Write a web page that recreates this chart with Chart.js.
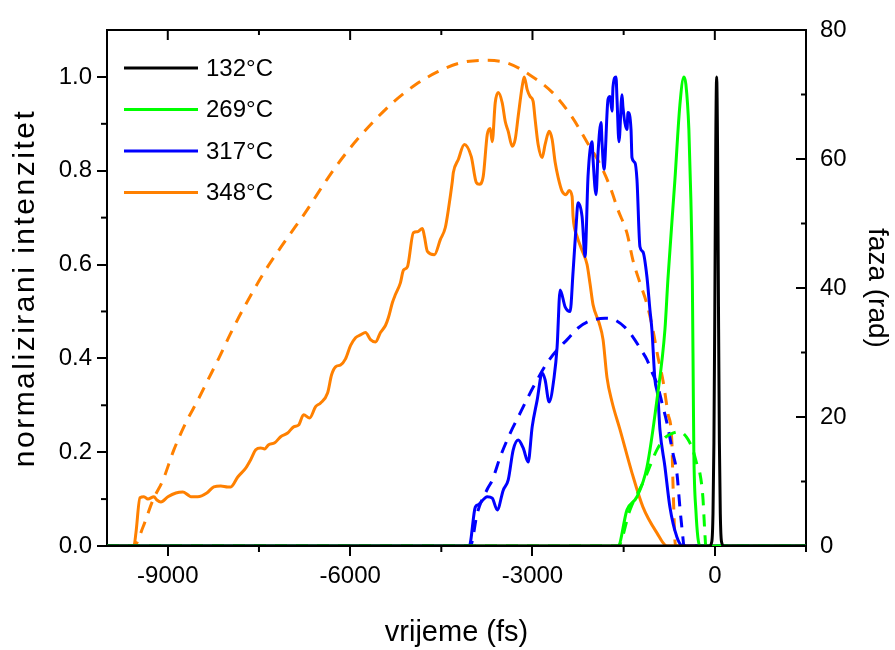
<!DOCTYPE html>
<html>
<head>
<meta charset="utf-8">
<script src="https://cdn.jsdelivr.net/npm/chart.js@4/dist/chart.umd.min.js"></script>
<style>
  body { margin: 0; background: #fff; }
  #boite { width: 895px; height: 650px; }
</style>
</head>
<body>
<div id="boite"><canvas id="graf"></canvas></div>
<script>
// legende / couleurs
const oznake = ['132°C', '269°C', '317°C', '348°C'];
const boje = ['#000000', '#00ff00', '#0000ff', '#ff8000'];

// osi
const xMajor = [-9000, -6000, -3000, 0];
const xMinor = [-7500, -4500, -1500, 1500];
const yMajor = [0, 0.2, 0.4, 0.6, 0.8, 1.0];
const yMinor = [0.1, 0.3, 0.5, 0.7, 0.9];
const y2Major = [0, 20, 40, 60, 80];
const y2Minor = [10, 30, 50, 70];

// 132 C - intenzitet
const t132 = [-10000, -90, -50, -30, -15, 0, 15, 30, 45, 60, 75, 90, 110, 150, 1500];
const i132 = [0, 0, 0.009, 0.07, 0.22, 0.51, 0.85, 1, 0.85, 0.51, 0.22, 0.07, 0.009, 0, 0];

// 269 C - intenzitet i faza
const t269 = [-10000, -1593, -1445, -1281, -1117, -953, -821, -772, -657, -575, -509, -476, -427, -394, -370, -353, -345, -312, -246, 1500];
const i269 = [0, 0, 0.077, 0.105, 0.168, 0.311, 0.461, 0.568, 0.78, 0.94, 1.0, 0.984, 0.888, 0.739, 0.568, 0.312, 0.199, 0.077, 0, 0];
const tf269 = [-10000, -1593, -1396, -1149, -953, -820, -690, -600, -525, -440, -361, -290, -246, -197, -164, -148, 1500];
const f269 = [0, 0, 5.6, 10.5, 14.9, 16.8, 17.5, 17.7, 17.5, 16.5, 14.9, 12.5, 11.3, 7.6, 2.0, 0, 0];

// 317 C
const t317 = [-10000, -4040, -3941, -3892, -3744, -3662, -3580, -3481, -3399, -3317,
  -3235, -3153, -3071, -3005, -2923, -2841, -2792, -2726, -2644, -2595,
  -2545, -2463, -2381, -2332, -2283, -2250, -2184, -2135, -2086, -2020,
  -2003, -1954, -1921, -1872, -1856, -1823, -1757, -1724, -1691, -1675,
  -1626, -1609, -1577, -1527, -1511, -1445, -1429, -1379, -1363, -1314,
  -1281, -1232, -1182, -1117, -1068, -1035, -985, -936, -903, -821,
  -739, -624, -526, 1500];
const i317 = [0, 0, 0.083, 0.088, 0.105, 0.102, 0.077, 0.119, 0.141, 0.205,
  0.226, 0.209, 0.179, 0.254, 0.311, 0.369, 0.354, 0.307, 0.360, 0.424,
  0.546, 0.51, 0.50, 0.585, 0.681, 0.732, 0.702, 0.617, 0.788, 0.862,
  0.823, 0.749, 0.839, 0.903, 0.861, 0.803, 0.952, 0.958, 0.927, 0.979,
  1.0, 0.952, 0.862, 0.962, 0.935, 0.888, 0.924, 0.888, 0.828, 0.817,
  0.781, 0.638, 0.627, 0.574, 0.504, 0.461, 0.354, 0.318, 0.248, 0.169,
  0.083, 0.019, 0, 0];
const tf317 = [-10000, -4023, -3908, -3744, -3662, -3531, -3366, -3235, -3071, -2989,
  -2759, -2545, -2430, -2250, -2053, -1806, -1691, -1478, -1347, -1199,
  -1117, -1035, -936, -870, -788, -690, -624, -575, -526, -509, 1500];
const f317 = [0, 0, 5.1, 8.8, 10.2, 13.8, 17.5, 20.0, 23.1, 24.6,
  28.4, 30.9, 32.0, 33.8, 34.9, 35.3, 35.2, 33.9, 32.4, 30.2,
  28.9, 27.0, 24.7, 22.2, 19.1, 14.4, 11.3, 6.0, 1.4, 0, 0];

// 348 C
const t348 = [-10000, -9557, -9524, -9458, -9392, -9327, -9228, -9179, -9113, -8998,
  -8867, -8752, -8670, -8621, -8506, -8358, -8243, -8128, -8013, -7964,
  -7849, -7718, -7636, -7553, -7471, -7406, -7340, -7241, -7143, -7028,
  -6929, -6847, -6765, -6667, -6568, -6486, -6371, -6305, -6240, -6158,
  -6076, -5994, -5911, -5829, -5747, -5665, -5583, -5501, -5419, -5370,
  -5304, -5255, -5173, -5123, -5058, -4959, -4893, -4811, -4778, -4729,
  -4614, -4516, -4434, -4384, -4319, -4302, -4220, -4122, -4007, -3925,
  -3875, -3810, -3744, -3695, -3662, -3613, -3563, -3498, -3448, -3399,
  -3333, -3284, -3235, -3169, -3136, -3087, -3038, -2989, -2956, -2907,
  -2841, -2792, -2726, -2677, -2627, -2578, -2512, -2447, -2398, -2348,
  -2332, -2266, -2184, -2102, -2053, -2003, -1905, -1839, -1774, -1691,
  -1560, -1363, -1182, -953, -788, 1500];
const i348 = [0, 0, 0.028, 0.103, 0.105, 0.100, 0.105, 0.098, 0.094, 0.105,
  0.113, 0.115, 0.109, 0.105, 0.105, 0.113, 0.126, 0.128, 0.126, 0.126,
  0.147, 0.166, 0.184, 0.205, 0.209, 0.207, 0.216, 0.220, 0.233, 0.241,
  0.254, 0.258, 0.280, 0.273, 0.297, 0.305, 0.326, 0.365, 0.382, 0.386,
  0.399, 0.427, 0.444, 0.450, 0.455, 0.44, 0.435, 0.455, 0.47, 0.487,
  0.519, 0.536, 0.561, 0.588, 0.595, 0.668, 0.670, 0.677, 0.660, 0.628,
  0.621, 0.653, 0.679, 0.717, 0.777, 0.796, 0.824, 0.856, 0.830, 0.775,
  0.771, 0.788, 0.877, 0.890, 0.862, 0.945, 0.967, 0.945, 0.905, 0.884,
  0.852, 0.867, 0.916, 0.980, 1.0, 0.973, 0.958, 0.948, 0.909, 0.856,
  0.828, 0.856, 0.884, 0.867, 0.818, 0.786, 0.756, 0.749, 0.758, 0.745,
  0.702, 0.660, 0.630, 0.600, 0.559, 0.514, 0.476, 0.440, 0.359, 0.307,
  0.248, 0.156, 0.083, 0.028, 0, 0];
const tf348 = [-10000, -9557, -9409, -9245, -9080, -8900, -8703, -8506, -8342, -8161,
  -7964, -7750, -7390, -7060, -6730, -6355, -6026, -5665, -5304, -4926,
  -4565, -4187, -3810, -3416, -3038, -2660, -2348, -2102, -1889, -1724,
  -1593, -1445, -1347, -1232, -1117, -1018, -936, -854, -772, -706,
  -690, -673, -657, -641, 1500];
const f348 = [0, 0, 2.9, 7.1, 10.2, 14.9, 19.1, 22.6, 25.7, 29.1,
  33.0, 36.9, 42.8, 47.4, 51.8, 57.2, 61.4, 65.3, 68.7, 71.5,
  73.5, 74.9, 75.3, 74.9, 73.0, 70.2, 66.5, 62.6, 59.2, 55.7,
  52.1, 48.5, 44.3, 40.8, 37.5, 33.5, 29.3, 25.7, 20.6, 16.0,
  10.2, 5.1, 0.9, 0, 0];

const tocke = (xs, ys) => xs.map((x, k) => ({ x: x, y: ys[k] }));

function linija(k, xs, ys, faza) {
  return {
    label: faza ? oznake[k] + ' faza' : oznake[k],
    data: tocke(xs, ys),
    yAxisID: faza ? 'y2' : 'y',
    borderColor: boje[k],
    borderWidth: 3,
    borderDash: faza ? [12, 9] : [],
    pointRadius: 0,
    cubicInterpolationMode: 'monotone',
    fill: false
  };
}

const datasets = [
  linija(0, t132, i132, false),
  linija(1, t269, i269, false),
  linija(1, tf269, f269, true),
  linija(2, t317, i317, false),
  linija(2, tf317, f317, true),
  linija(3, t348, i348, false),
  linija(3, tf348, f348, true)
];

// crtice na okviru (gornja strana, desna os, sporedne oznake)
const graduations = {
  id: 'graduations',
  beforeDatasetsDraw(chart) {
    const { ctx, chartArea: a, scales } = chart;
    const seg = (x1, y1, x2, y2) => { ctx.beginPath(); ctx.moveTo(x1, y1); ctx.lineTo(x2, y2); ctx.stroke(); };
    ctx.save();
    ctx.strokeStyle = '#000';
    ctx.lineWidth = 2;
    seg(a.left - 1, a.top, a.right + 1, a.top);
    xMajor.forEach(v => { const x = scales.x.getPixelForValue(v); seg(x, a.top, x, a.top + 10); });
    xMinor.forEach(v => {
      const x = scales.x.getPixelForValue(v);
      seg(x, a.top, x, a.top + 5);
      seg(x, a.bottom, x, a.bottom + 6);
    });
    yMinor.forEach(v => { const y = scales.y.getPixelForValue(v); seg(a.left - 6, y, a.left, y); });
    y2Major.forEach(v => { const y = scales.y2.getPixelForValue(v); seg(a.right - 10, y, a.right, y); });
    y2Minor.forEach(v => { const y = scales.y2.getPixelForValue(v); seg(a.right - 5, y, a.right, y); });
    ctx.restore();
  }
};

// razmak slova za naslov lijeve osi
const razmakSlova = {
  id: 'razmakSlova',
  beforeDraw(chart) {
    const s = chart.scales.y;
    if (s && !s._razmak) {
      const izvorni = s.drawTitle.bind(s);
      s.drawTitle = function () {
        const c = this.ctx;
        const staro = c.letterSpacing;
        c.letterSpacing = '2.5px';
        izvorni();
        c.letterSpacing = staro || '0px';
      };
      s._razmak = true;
    }
  }
};

const legendaUnutra = {
  id: 'legendaUnutra',
  afterDatasetsDraw(chart) {
    const { ctx, chartArea: a } = chart;
    ctx.save();
    ctx.font = '24px "Liberation Sans", Arial, sans-serif';
    ctx.textBaseline = 'middle';
    ctx.fillStyle = '#000';
    oznake.forEach((lab, k) => {
      const y = a.top + 38 + k * 41.5;
      ctx.strokeStyle = boje[k];
      ctx.lineWidth = 3;
      ctx.beginPath();
      ctx.moveTo(a.left + 17, y);
      ctx.lineTo(a.left + 91, y);
      ctx.stroke();
      ctx.fillText(lab, a.left + 99, y + 1);
    });
    ctx.restore();
  }
};

Chart.defaults.font.family = '"Liberation Sans", Arial, sans-serif';
Chart.defaults.font.size = 24;
Chart.defaults.color = '#000';

const osGrid = { drawOnChartArea: false, color: '#000', lineWidth: 2, tickLength: 10 };
const osBorder = { display: true, color: '#000', width: 2 };

new Chart(document.getElementById('graf'), {
  type: 'line',
  data: { datasets: datasets },
  options: {
    responsive: true,
    maintainAspectRatio: false,
    animation: false,
    layout: { padding: { top: 30, left: 0, right: 0, bottom: 0 } },
    plugins: { legend: { display: false }, tooltip: { enabled: false } },
    scales: {
      x: {
        type: 'linear',
        min: -10000,
        max: 1500,
        grid: osGrid,
        border: osBorder,
        afterBuildTicks: s => { s.ticks = xMajor.map(v => ({ value: v })); },
        afterFit: s => { s.height = 104; },
        ticks: { padding: 6, maxRotation: 0, callback: v => String(v) },
        title: { display: true, text: 'vrijeme (fs)', font: { size: 29 }, padding: { top: 0, bottom: 0 } }
      },
      y: {
        position: 'left',
        min: 0,
        max: 1.1,
        grid: osGrid,
        border: osBorder,
        afterBuildTicks: s => { s.ticks = yMajor.map(v => ({ value: v })); },
        afterFit: s => { s.width = 107; },
        ticks: { padding: 5, callback: v => v.toFixed(1) },
        title: { display: true, text: 'normalizirani intenzitet', font: { size: 30 }, padding: { top: 8, bottom: 0 } }
      },
      y2: {
        position: 'right',
        min: 0,
        max: 80,
        grid: { drawOnChartArea: false, drawTicks: false, color: '#000' },
        border: osBorder,
        afterBuildTicks: s => { s.ticks = y2Major.map(v => ({ value: v })); },
        afterFit: s => { s.width = 89; },
        ticks: { padding: 14, callback: v => String(v) },
        title: { display: true, text: 'faza (rad)', font: { size: 28 }, padding: { top: 1, bottom: 0 } }
      }
    }
  },
  plugins: [graduations, razmakSlova, legendaUnutra]
});
</script>
</body>
</html>
